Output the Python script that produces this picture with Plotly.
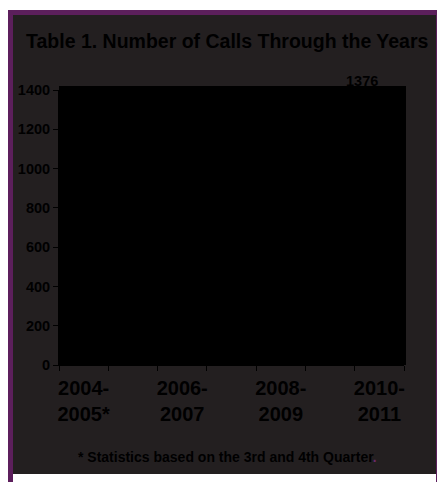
import plotly.graph_objects as go

# ---- data ----
categories = ["2004-2005*", "2005-2006", "2006-2007", "2007-2008",
              "2008-2009", "2009-2010", "2010-2011"]
calls = [580, 795, 850, 905, 1000, 1100, 1376]
y_ticks = [0, 200, 400, 600, 800, 1000, 1200, 1400]

title_text = "Table 1. Number of Calls Through the Years"
footnote_text = "* Statistics based on the 3rd and 4th Quarter"

# ---- layout geometry (pixels) ----
W, H = 437, 482
L, R, T, B = 59, 404, 90, 365


def px(x):
    return (x - L) / (R - L)


def py(y):
    return (B - y) / (B - T)


FONT = "Liberation Sans, Arial, sans-serif"
DARK = "#231f20"
PURPLE = "#5c1f5c"

xs = list(range(len(categories)))
tickvals = xs[::2]
ticktext = [c.replace("-", "-<br>") for c in categories[::2]]

fig = go.Figure()
fig.add_trace(go.Bar(
    x=xs, y=calls,
    width=0.6, offset=-0.5,
    marker=dict(color="#000000", line=dict(width=0)),
    hoverinfo="skip",
))

shapes = [
    dict(type="rect", xref="paper", yref="paper", layer="below",
         x0=px(8), x1=px(437), y0=py(482), y1=py(10),
         fillcolor=PURPLE, line=dict(width=0)),
    dict(type="rect", xref="paper", yref="paper", layer="below",
         x0=px(13), x1=px(436), y0=py(474), y1=py(15),
         fillcolor=DARK, line=dict(width=0)),
    dict(type="rect", xref="paper", yref="paper", layer="below",
         x0=px(13), x1=px(436), y0=py(482), y1=py(474),
         fillcolor="#ffffff", line=dict(width=0)),
    dict(type="rect", xref="paper", yref="paper", layer="below",
         x0=px(59), x1=px(406), y0=py(365), y1=py(86),
         fillcolor="#000000", line=dict(width=0)),
]

annotations = [
    dict(text="<b>" + title_text + "</b>", xref="paper", yref="paper",
         x=px(227), y=py(41), xanchor="center", yanchor="middle",
         showarrow=False, font=dict(family=FONT, size=19.5, color="#000000")),
    dict(text="<b>" + footnote_text + "<span style='color:#6a2a6a'>.</span></b>",
         xref="paper", yref="paper",
         x=px(227), y=py(457), xanchor="center", yanchor="middle",
         showarrow=False, font=dict(family=FONT, size=14, color="#000000")),
]
# value labels (data-driven, placed on the data scale; slight perspective drift)
n = len(xs)
for i, (xv, v) in enumerate(zip(xs, calls)):
    annotations.append(dict(
        text="<b>%d</b>" % v, x=xv, y=v, xref="x", yref="y",
        xanchor="center", yanchor="bottom",
        xshift=-6 - 11 * i / (n - 1), yshift=4,
        showarrow=False, font=dict(family=FONT, size=14.5, color="#000000"),
    ))

fig.update_layout(
    width=W, height=H,
    margin=dict(l=L, r=W - R, t=T, b=H - B, pad=0),
    paper_bgcolor="#ffffff",
    plot_bgcolor="#000000",
    showlegend=False,
    shapes=shapes,
    annotations=annotations,
    bargap=0,
)

fig.update_xaxes(
    range=[-0.5, len(categories) - 0.5],
    tickmode="array", tickvals=tickvals, ticktext=ticktext,
    ticks="", showgrid=False, zeroline=False,
    showline=True, linecolor="#000000", linewidth=1,
    tickfont=dict(family=FONT, size=20, color="#000000", weight="bold"),
    ticklabelstandoff=5,
    minor=dict(tickmode="array",
               tickvals=[i - 0.5 for i in range(len(categories) + 1)],
               ticks="outside", ticklen=5, tickcolor="#000000", tickwidth=1),
    fixedrange=True,
)
fig.update_yaxes(
    range=[0, 1400], tickmode="array", tickvals=y_ticks,
    ticks="outside", ticklen=5, tickcolor="#000000", tickwidth=1,
    showgrid=False, zeroline=False,
    showline=True, linecolor="#000000", linewidth=1,
    tickfont=dict(family=FONT, size=14.5, color="#000000", weight="bold"),
    fixedrange=True,
)

fig.write_html("out.html", config={"displayModeBar": False})
